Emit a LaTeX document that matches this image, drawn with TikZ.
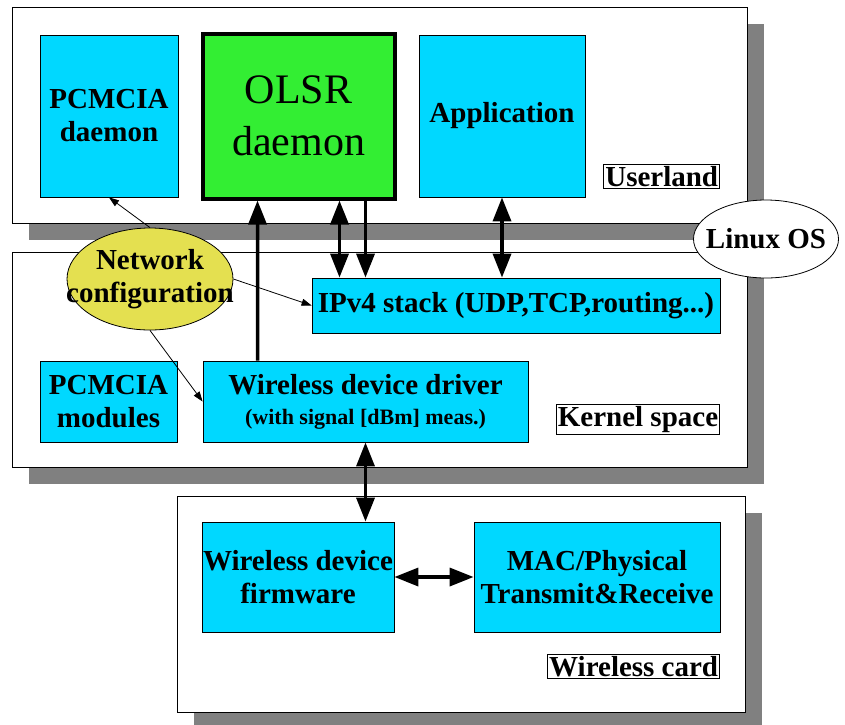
\documentclass[tikz,border=0pt]{standalone}
\usepackage{fontspec}
\setmainfont{Liberation Serif}
\usetikzlibrary{arrows.meta,shapes.geometric,shadows}
\definecolor{compcyan}{RGB}{0,216,255}
\definecolor{olsrgreen}{RGB}{51,238,51}
\definecolor{netyellow}{RGB}{228,224,80}
\definecolor{shadowgray}{RGB}{128,128,128}
\tikzset{
  panel/.style = {draw = black, fill = white, line width = 1pt, inner sep = 0pt, drop shadow = {shadow xshift = 17pt, shadow yshift = -17pt, fill = shadowgray, opacity = 1}},
  comp/.style = {draw = black, fill = compcyan, line width = 0.8pt, inner sep = 0pt, align = center, font = \fontsize{29}{33}\selectfont\bfseries},
  tag/.style = {draw = black, fill = white, line width = 0.8pt, inner sep = 1.5pt, anchor = east, font = \fontsize{29}{33}\selectfont\bfseries},
  bubble/.style = {ellipse, draw = black, line width = 0.8pt, inner sep = 0pt},
  bubbletext/.style = {inner sep = 0pt, align = center, font = \fontsize{29}{33}\selectfont\bfseries},
  bus/.style = {line width = 3.5pt, -{Triangle[length = 24pt, width = 18pt]}},
  busboth/.style = {line width = 3.5pt, {Triangle[length = 24pt, width = 18pt]}-{Triangle[length = 24pt, width = 18pt]}},
  hint/.style = {line width = 0.8pt, -{Triangle[length = 10pt, width = 7pt]}}
}
\begin{document}
\begin{tikzpicture}[x = 1pt, y = -1pt]
\useasboundingbox (0,0) rectangle (845,724);
\node[panel, minimum width = 735pt, minimum height = 216pt] (userland) at (379.5,115) {};
\node[panel, minimum width = 735pt, minimum height = 215pt] (kernel) at (379.5,359.5) {};
\node[panel, minimum width = 568pt, minimum height = 216pt] (card) at (461,604) {};
\node[tag] (userlandtag) at (720,176.5) {Userland};
\node[tag] (kerneltag) at (720,419.5) {Kernel space};
\node[tag] (cardtag) at (720,666.5) {Wireless card};
\node[bubble, fill = white, minimum width = 145pt, minimum height = 78pt, label = {[bubbletext]center:Linux OS}] (linux) at (766,239) {};
\node[comp, minimum width = 138pt, minimum height = 162pt] (pcdaemon) at (109,116) {PCMCIA\\daemon};
\node[comp, fill = olsrgreen, line width = 4pt, minimum width = 192pt, minimum height = 165pt, font = \fontsize{42}{52}\selectfont] (olsr) at (298.5,116) {OLSR\\daemon};
\node[comp, minimum width = 166pt, minimum height = 162pt] (app) at (502,116) {Application};
\node[comp, minimum width = 408pt, minimum height = 55pt] (ipv4) at (516,305.5) {IPv4 stack (UDP,TCP,routing...)};
\node[comp, minimum width = 137pt, minimum height = 81pt] (pcmodules) at (108.5,401.5) {PCMCIA\\modules};
\node[comp, minimum width = 325pt, minimum height = 81pt] (driver) at (365.5,401.5) {Wireless device driver\\[-3pt]{\fontsize{22}{26}\selectfont (with signal [dBm] meas.)}};
\node[comp, minimum width = 192pt, minimum height = 110pt] (firmware) at (298,577) {Wireless device\\firmware};
\node[comp, minimum width = 246pt, minimum height = 110pt] (mac) at (597,577) {MAC/Physical\\Transmit\&Receive};
\node[bubble, fill = netyellow, minimum width = 166pt, minimum height = 102pt, label = {[bubbletext]center:Network\\configuration}] (netcfg) at (150,279) {};
\draw[hint] (netcfg.north) -- (pcdaemon.south);
\draw[hint] (netcfg.east) -- (ipv4.west);
\draw[hint] (netcfg.south) -- (driver.west);
\draw[bus] ([xshift = 55pt] driver.north west) -- ([xshift = 57pt] olsr.south west);
\draw[busboth] ([xshift = 139pt] olsr.south west) -- ([xshift = 139pt] olsr.south west |- ipv4.north);
\draw[bus] ([xshift = 165pt] olsr.south west) -- ([xshift = 165pt] olsr.south west |- ipv4.north);
\draw[busboth] (app.south) -- (app.south |- ipv4.north);
\draw[busboth] (driver.south) -- (driver.south |- firmware.north);
\draw[busboth] (firmware.east) -- (mac.west);
\end{tikzpicture}
\end{document}
